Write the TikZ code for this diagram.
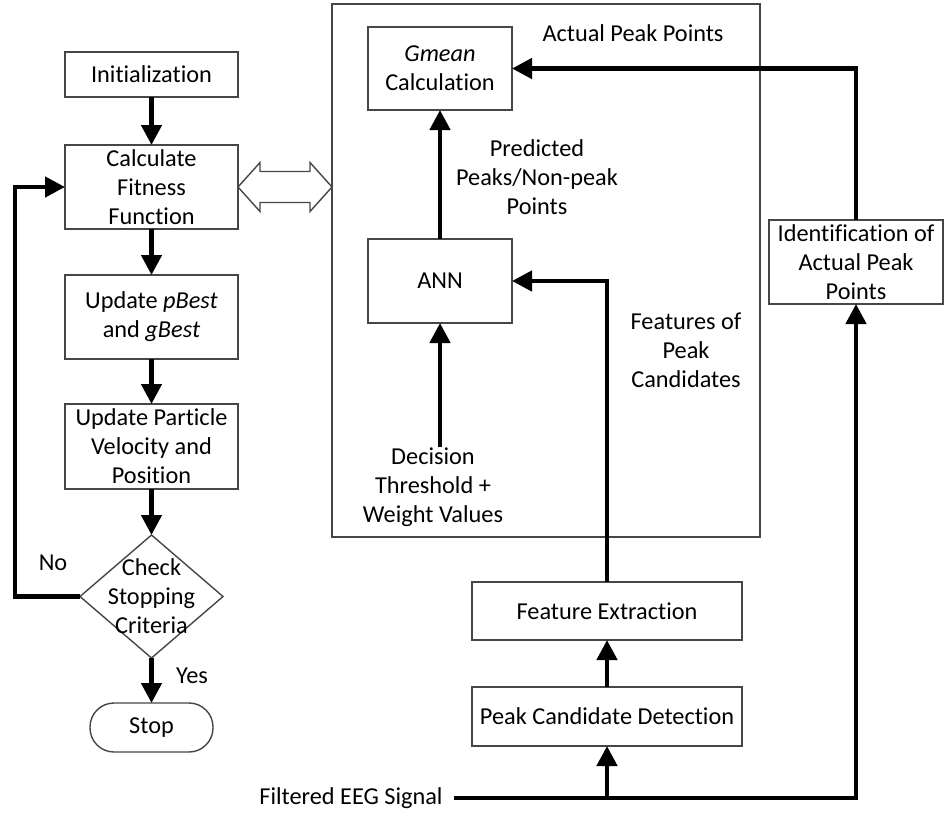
\documentclass[tikz,border=0pt]{standalone}
\usepackage{fontspec}
\setmainfont[Ligatures = NoCommon]{Carlito}
\usepackage{tikz}
\usetikzlibrary{arrows.meta,%
                shapes,positioning}
\definecolor{boxgray}{RGB}{70,70,70}

\begin{document}
\begin{tikzpicture}[x = 1pt, y = -1pt, node distance = 46pt]
  \useasboundingbox (0,0) rectangle (944,814);
  \tikzset{BoxStyle/.style      = {shape          = rectangle,
                                   draw           = boxgray,
                                   line width     = 1.4pt,
                                   fill           = white,
                                   text           = black,
                                   align          = center,
                                   inner sep      = 2pt,
                                   outer sep      = 0pt,
                                   minimum width  = 173pt,
                                   font           = \fontsize{24.3pt}{29pt}\selectfont}}
  \tikzset{DecisionStyle/.style = {BoxStyle,
                                   shape          = diamond,
                                   inner sep      = 0pt,
                                   minimum width  = 143pt,
                                   minimum height = 123pt}}
  \tikzset{StopStyle/.style     = {BoxStyle,
                                   rounded corners = 24pt,
                                   minimum width  = 123pt,
                                   minimum height = 49pt}}
  \tikzset{LabelStyle/.style    = {align          = center,
                                   inner sep      = 0pt,
                                   text           = black,
                                   font           = \fontsize{24.3pt}{29pt}\selectfont}}
  \tikzset{ArrowStyle/.style    = {line width     = 4.5pt,
                                   -{Triangle[length = 20pt, width = 20pt]}}}
  \tikzset{HollowStyle/.style   = {draw           = boxgray,
                                   line width     = 1.4pt,
                                   fill           = white}}

  % PSO loop
     \node[BoxStyle, minimum height = 45pt] (Init) at (151.5,74.5) {Initialization};
     \node[BoxStyle, minimum height = 84pt, below = 48pt of Init](Fit){Calculate\\Fitness\\Function};
     \node[BoxStyle, minimum height = 84pt, below = of Fit](Best){Update \textit{pBest}\\and \textit{gBest}};
     \node[BoxStyle, minimum height = 85pt, below = 45pt of Best](Move){Update Particle\\Velocity and\\Position};
     \node[DecisionStyle, below = of Move,
           label = {[LabelStyle]center:Check\\Stopping\\Criteria}](Check){};
     \node[StopStyle, below = 45pt of Check](Stop){Stop};
     \node[LabelStyle] (No)  at (53,563)  {No};
     \node[LabelStyle] (Yes) at (192,676) {Yes};

  % peak detection
     \node[BoxStyle, fill = none, minimum width = 428pt, minimum height = 533pt] (Frame) at (546,270.5) {};
     \node[BoxStyle, minimum width = 144pt, minimum height = 83pt] (Gm)  at (440,68.5) {\textit{Gmean}\\Calculation};
     \node[BoxStyle, minimum width = 144pt, minimum height = 84pt] (ANN) at (440,281)  {ANN};
     \node[BoxStyle, minimum width = 174pt, minimum height = 84pt] (Id)  at (856,262)  {Identification of\\Actual Peak\\Points};
     \node[BoxStyle, minimum width = 270pt, minimum height = 58pt] (FE)  at (607,611)  {Feature Extraction};
     \node[BoxStyle, minimum width = 270pt, minimum height = 59pt, below = 47pt of FE](PCD){Peak Candidate Detection};
     \node[LabelStyle] (Sig)    at (351,798) {Filtered EEG Signal};
     \node[LabelStyle] (Actual) at (633,33)  {Actual Peak Points};
     \node[LabelStyle] (Pred)   at (537,177) {Predicted\\Peaks/Non-peak\\Points};
     \node[LabelStyle] (Feat)   at (686,350) {Features of\\Peak\\Candidates};
     \node[LabelStyle] (Dec)    at (433,487) {Decision\\Threshold +\\Weight Values};
     \coordinate (Split) at (PCD.south |- Sig.east);

     \draw[ArrowStyle](Init) -- (Fit);
     \draw[ArrowStyle](Fit)  -- (Best);
     \draw[ArrowStyle](Best) -- (Move);
     \draw[ArrowStyle](Move) -- (Check);
     \draw[ArrowStyle](Check) -- (Stop);
     \draw[ArrowStyle](Check.west) -- ++(-65,0) |- (Fit.west);
%     \draw[ArrowStyle](Fit.east) -- (Frame.west);
     \draw[HollowStyle](Fit.east) -- ++(22,-24.5) -- ++(0,9) -- ++(50,0) -- ++(0,-9)
          -- (Fit.east -| Frame.west) -- ++(-22,24.5) -- ++(0,-9) -- ++(-50,0) -- ++(0,9) -- cycle;

     \draw[ArrowStyle](ANN) -- (Gm);
     \draw[ArrowStyle](Id.north) |- (Gm.east);
     \draw[ArrowStyle](FE.north) |- (ANN.east);
     \draw[ArrowStyle](ANN.south |- Dec.north) -- (ANN.south);
     \draw[ArrowStyle](PCD) -- (FE);
     \draw[ArrowStyle]([xshift = 11pt]Sig.east) -| (Id.south);
     \draw[ArrowStyle](Split) -- (PCD.south);
  \end{tikzpicture}
\end{document}
